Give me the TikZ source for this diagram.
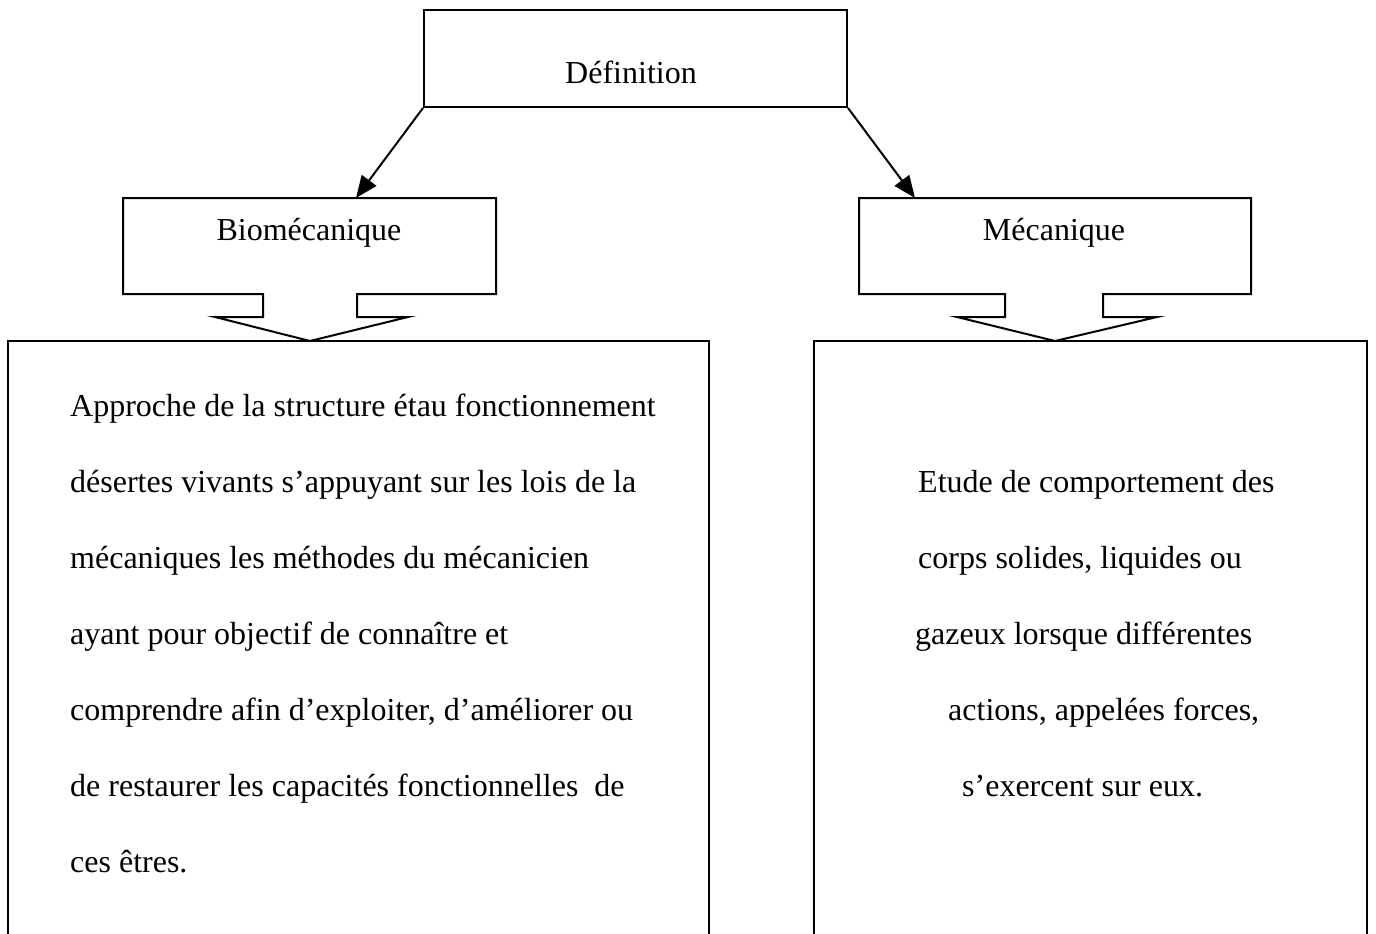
\documentclass[tikz,border=0pt]{standalone}
\usepackage{fontspec}
\setmainfont{Liberation Serif}
\usetikzlibrary{arrows.meta}
\begin{document}
\begin{tikzpicture}[x=1pt,y=-1pt,
  every node/.style={font=\fontsize{32}{38}\selectfont, inner sep=0pt},
  boxline/.style={draw=black, line width=2pt},
  link/.style={draw=black, line width=2pt, -{Triangle[length=22pt,width=18pt]}},
  bodytext/.style={anchor=base west}]
\useasboundingbox[fill=white] (0,0) rectangle (1376,934);
% Definition box
\node[boxline, minimum width=423pt, minimum height=97pt, anchor=north west] (def) at (423,9) {};
\node[anchor=base] (deftxt) at (631,83) {Définition};
% callouts
\draw[boxline, line join=miter] (123,198) -- (496,198) -- (496,294) -- (357,294) -- (357,317) -- (408,317) -- (310,341) -- (215,317) -- (263,317) -- (263,294) -- (123,294) -- cycle;
\coordinate (bioTop) at (356,198);
\node[anchor=base] (biotxt) at (309,240) {Biomécanique};
\draw[boxline, line join=miter] (859,198) -- (1251,198) -- (1251,294) -- (1103,294) -- (1103,317) -- (1157,317) -- (1055,341) -- (957,317) -- (1005,317) -- (1005,294) -- (859,294) -- cycle;
\coordinate (mecTop) at (915,198);
\node[anchor=base] (mectxt) at (1054,240) {Mécanique};
% arrows
\draw[link] (def.south west) -- (bioTop);
\draw[link] (def.south east) -- (mecTop);
% big boxes (open at the bottom edge)
\draw[boxline] (8,940) -- (8,341) -- (709,341) -- (709,940);
\draw[boxline] (814,940) -- (814,341) -- (1367,341) -- (1367,940);
% left text
\node[bodytext] (l1) at (70,416) {Approche de la structure étau fonctionnement};
\node[bodytext] (l2) at (70,492) {désertes vivants s’appuyant sur les lois de la};
\node[bodytext] (l3) at (70,568) {mécaniques les méthodes du mécanicien};
\node[bodytext] (l4) at (70,644) {ayant pour objectif de connaître et};
\node[bodytext] (l5) at (70,720) {comprendre afin d’exploiter, d’améliorer ou};
\node[bodytext] (l6) at (70,796) {de restaurer les capacités fonctionnelles\ \ de};
\node[bodytext] (l7) at (70,872) {ces êtres.};
% right text
\node[bodytext] (r1) at (918,492) {Etude de comportement des};
\node[bodytext] (r2) at (918,568) {corps solides, liquides ou};
\node[bodytext] (r3) at (915,644) {gazeux lorsque différentes};
\node[bodytext] (r4) at (948,720) {actions, appelées forces,};
\node[bodytext] (r5) at (962,796) {s’exercent sur eux.};
\end{tikzpicture}
\end{document}
